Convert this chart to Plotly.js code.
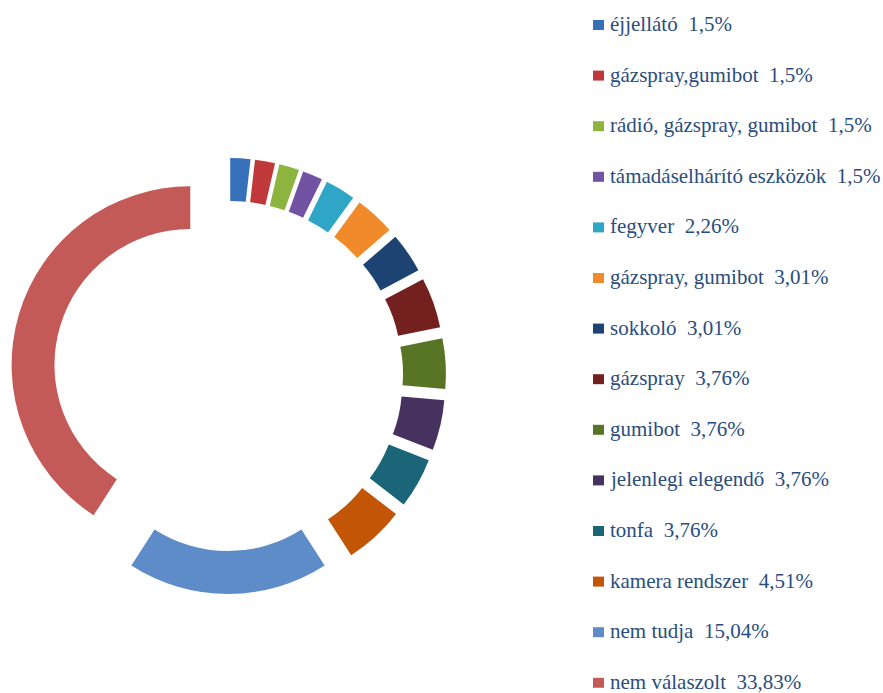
<!DOCTYPE html>
<html>
<head>
<meta charset="utf-8">
<script src="https://cdn.plot.ly/plotly-3.0.1.min.js"></script>
<style>html,body{margin:0;padding:0;background:#fff;}#chart{width:883px;height:693px;}</style>
</head>
<body>
<div id="chart"></div>
<script>
const labels = ["éjjellátó", "gázspray,gumibot", "rádió, gázspray, gumibot", "támadáselhárító eszközök", "fegyver", "gázspray, gumibot", "sokkoló", "gázspray", "gumibot", "jelenlegi elegendő", "tonfa", "kamera rendszer", "nem tudja", "nem válaszolt"];
const values = [1.5, 1.5, 1.5, 1.5, 2.26, 3.01, 3.01, 3.76, 3.76, 3.76, 3.76, 4.51, 15.04, 33.83];
const colors = ["#3670B8", "#C0393A", "#8DB43E", "#7252A2", "#2FA6C6", "#F08A2A", "#1D4372", "#74201E", "#587526", "#47325F", "#1A6578", "#C25506", "#5D8CC8", "#C45A58"];

const W = 883, H = 693;
const pieTrace = {
  type: "pie",
  labels: labels,
  values: values,
  sort: false,
  direction: "clockwise",
  rotation: 0,
  hole: 0.76,
  pull: values.map(() => 0.22),
  marker: {colors: colors, line: {width: 0}},
  textinfo: "none",
  showlegend: false,
  domain: {x: [10 / W, 446 / W], y: [(H - 595) / H, (H - 157) / H]}
};

const annotations = [];
const shapes = [];
const top0 = 24, step = 50.6;
labels.forEach((lab, i) => {
  const yc = top0 + i * step;
  annotations.push({
    xref: "paper", yref: "paper",
    x: 608 / W, y: 1 - yc / H,
    xanchor: "left", yanchor: "middle",
    showarrow: false,
    text: lab + "\u00a0\u00a0" + String(values[i]).replace(".", ",") + "%",
    font: {family: "Liberation Serif, Times New Roman, serif", size: 21, color: "#2A4D7E"}
  });
  shapes.push({
    type: "rect", xref: "paper", yref: "paper",
    x0: 593 / W, x1: 604 / W,
    y0: 1 - (yc - 4) / H, y1: 1 - (yc + 6) / H,
    fillcolor: colors[i], line: {width: 0}
  });
});

const layout = {
  width: W, height: H,
  margin: {l: 0, r: 0, t: 0, b: 0},
  paper_bgcolor: "#ffffff",
  showlegend: false,
  annotations: annotations,
  shapes: shapes
};
Plotly.newPlot("chart", [pieTrace], layout, {displayModeBar: false, staticPlot: true});
</script>
</body>
</html>
